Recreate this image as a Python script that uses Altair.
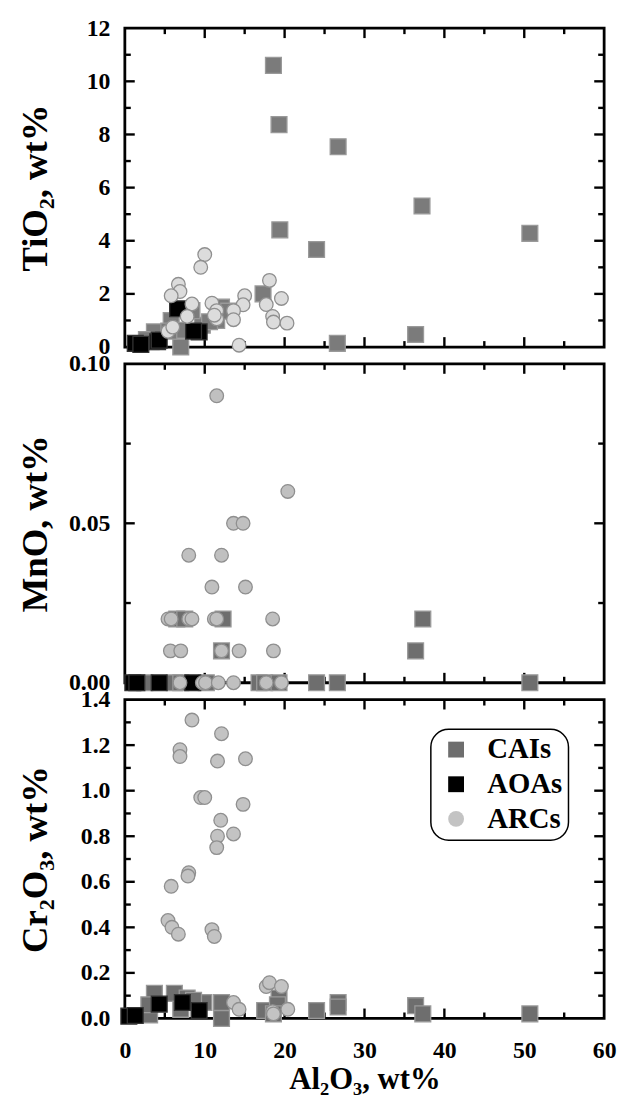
import altair as alt
import pandas as pd

GROUPS = ["CAIs", "AOAs", "ARCs"]
X_MAJOR = [10, 20, 30, 40, 50]
X_MINOR = [5, 15, 25, 35, 45, 55]
X_LABELS = [0, 10, 20, 30, 40, 50, 60]

# ---- TiO2 panel ----
TIO2_Y_LABELS = [0, 2, 4, 6, 8, 10, 12]
TIO2_Y_MAJOR = [2, 4, 6, 8, 10]
TIO2_Y_MINOR = [1, 3, 5, 7, 9, 11]
TIO2_CAI_X = [18.6, 19.3, 26.7, 19.4, 24.0, 17.3, 26.6, 7.0, 37.2, 50.7, 36.4, 5.8, 9.7, 12.1, 11.5,
              3.3, 3.7, 7.2, 8.4, 2.7, 5.5, 10.6, 13.0]
TIO2_CAI_Y = [10.6, 8.37, 7.54, 4.41, 3.67, 2.0, 0.14, 0.0, 5.31, 4.28, 0.47, 1.0, 0.82, 1.5, 1.0,
              0.2, 0.57, 0.63, 1.37, 0.28, 0.6, 0.95, 1.35]
TIO2_AOA_X = [1.3, 2.0, 4.1, 4.3, 9.3, 6.6, 8.6]
TIO2_AOA_Y = [0.14, 0.1, 0.2, 0.26, 0.57, 1.44, 0.6]
TIO2_ARC_X = [10.0, 9.5, 18.1, 6.7, 6.9, 5.8, 15.0, 19.6, 8.4, 10.9, 14.8, 17.7, 11.5, 13.6, 18.5,
              11.5, 13.6, 7.8, 18.6, 20.3, 5.4, 6.0, 14.3, 11.2]
TIO2_ARC_Y = [3.48, 3.0, 2.51, 2.36, 2.09, 1.93, 1.93, 1.83, 1.62, 1.65, 1.59, 1.6, 1.37, 1.37, 1.15,
              1.06, 1.03, 1.15, 0.94, 0.9, 0.59, 0.75, 0.07, 1.2]

# ---- MnO panel ----
MNO_Y_LABELS = [0, 0.05, 0.10]
MNO_Y_MAJOR = [0.05]
MNO_Y_MINOR = [0.025, 0.075]
MNO_CAI_X = [6.5, 7.5, 12.3, 37.3, 12.1, 36.4, 2.5, 6.2, 7.0, 10.2, 16.8, 17.5, 19.3, 24.0, 26.6, 50.7]
MNO_CAI_Y = [0.02, 0.02, 0.02, 0.02, 0.01, 0.01, 0.0, 0.0, 0.0, 0.0, 0.0, 0.0, 0.0, 0.0, 0.0, 0.0]
MNO_AOA_X = [1.0, 1.5, 4.3, 8.5]
MNO_AOA_Y = [0.0, 0.0, 0.0, 0.0]
MNO_ARC_X = [11.5, 20.4, 13.6, 14.8, 8.0, 12.1, 10.9, 15.1,
             5.4, 5.8, 8.0, 8.4, 11.2, 11.5, 18.5,
             5.7, 7.0, 12.1, 14.3, 18.6,
             6.9, 9.7, 10.1, 11.7, 13.6, 17.7, 19.6]
MNO_ARC_Y = [0.09, 0.06, 0.05, 0.05, 0.04, 0.04, 0.03, 0.03,
             0.02, 0.02, 0.02, 0.02, 0.02, 0.02, 0.02,
             0.01, 0.01, 0.01, 0.01, 0.01,
             0.0, 0.0, 0.0, 0.0, 0.0, 0.0, 0.0]

# ---- Cr2O3 panel ----
CR_Y_LABELS = [0.0, 0.2, 0.4, 0.6, 0.8, 1.0, 1.2, 1.4]
CR_Y_MAJOR = [0.2, 0.4, 0.6, 0.8, 1.0, 1.2]
CR_Y_MINOR = [0.1, 0.3, 0.5, 0.7, 0.9, 1.1, 1.3]
CR_CAI_X = [3.7, 6.2, 7.8, 9.9, 12.1, 12.1, 19.3, 17.5, 24.0, 26.7, 26.7, 3.1, 7.0, 36.4, 37.3, 50.7,
            3.0, 8.6, 19.1, 18.6]
CR_CAI_Y = [0.11, 0.11, 0.09, 0.07, 0.07, 0.0, 0.09, 0.035, 0.035, 0.07, 0.05, 0.015, 0.04, 0.056,
            0.02, 0.02, 0.06, 0.08, 0.06, 0.02]
CR_AOA_X = [0.5, 1.3, 4.3, 7.2, 9.3]
CR_AOA_Y = [0.01, 0.013, 0.063, 0.07, 0.035]
CR_ARC_X = [8.4, 12.1, 6.9, 6.9, 11.6, 15.1, 9.5, 10.0, 14.8, 12.0, 11.6, 13.6, 11.5, 8.0, 7.9,
            5.8, 5.4, 5.9, 6.7, 10.9, 11.2, 17.7, 18.1, 19.6, 13.6, 14.3, 18.5, 20.4, 18.6]
CR_ARC_Y = [1.31, 1.25, 1.18, 1.15, 1.13, 1.14, 0.97, 0.97, 0.94, 0.87, 0.80, 0.81, 0.75, 0.64, 0.625,
            0.58, 0.43, 0.40, 0.37, 0.39, 0.36, 0.14, 0.157, 0.14, 0.07, 0.04, 0.03, 0.04, 0.02]

FONT = "Liberation Serif"
W, H = 484, 322
MAJ, MIN = 10, 6
TICK_W = 2.4


def group_df(name, xs, ys):
    return pd.DataFrame({"al2o3": xs, "val": ys, "group": [name] * len(xs)})


def x_ticks(values, length, xs):
    d = alt.Chart(pd.DataFrame({"v": values}))
    m = d.mark_rule(color="black", strokeWidth=TICK_W)
    bottom = m.encode(x=alt.X("v:Q", scale=xs, axis=None), y=alt.value(H), y2=alt.value(H - length))
    top = m.encode(x=alt.X("v:Q", scale=xs, axis=None), y=alt.value(0), y2=alt.value(length))
    return [bottom, top]


def y_ticks(values, length, ys):
    d = alt.Chart(pd.DataFrame({"v": values}))
    m = d.mark_rule(color="black", strokeWidth=TICK_W)
    left = m.encode(y=alt.Y("v:Q", scale=ys, axis=None), x=alt.value(0), x2=alt.value(length))
    right = m.encode(y=alt.Y("v:Q", scale=ys, axis=None), x=alt.value(W), x2=alt.value(W - length))
    return [left, right]


def panel(groups, ydom, ylabels, ymaj, ymin, yfmt, ytitle, xlabels, arc_fill, cai_fill, legend):
    xs = alt.Scale(domain=[0, 60], nice=False, zero=False)
    ys = alt.Scale(domain=ydom, nice=False, zero=False)

    if xlabels:
        xaxis = alt.Axis(values=X_LABELS, ticks=False, domain=False, grid=False,
                         labelFont=FONT, labelFontSize=24, labelFontWeight="bold",
                         labelColor="black", labelPadding=20, labelFlush=False,
                         title="Al₂O₃, wt%", titleFont=FONT, titleFontSize=31,
                         titleFontWeight="bold", titleColor="black", titlePadding=3)
    else:
        xaxis = None
    yaxis = alt.Axis(values=ylabels, format=yfmt, ticks=False, domain=False, grid=False,
                     labelFont=FONT, labelFontSize=24, labelFontWeight="bold",
                     labelColor="black", labelPadding=15, labelFlush=False, labelOverlap=False,
                     title=ytitle, titleFont=FONT, titleFontSize=37, titleFontWeight="bold",
                     titleColor="black", titleX=-71)

    if legend:
        leg = alt.Legend(title=None, orient="none", legendX=309, legendY=30,
                         direction="vertical", strokeColor="black",
                         cornerRadius=18, padding=6, fillColor="white",
                         labelFont=FONT, labelFontSize=29, labelFontWeight="bold",
                         labelColor="black", symbolSize=256, symbolStrokeColor="#8a8a8a",
                         symbolStrokeWidth=1, rowPadding=5, labelOffset=17, symbolOffset=5)
    else:
        leg = None

    fill_scale = alt.Scale(domain=GROUPS, range=[cai_fill, "#000000", arc_fill])
    shape_scale = alt.Scale(domain=GROUPS, range=["square", "square", "circle"])
    strokes = {"CAIs": "#9a9a9a", "AOAs": "#333333", "ARCs": "#8f8f8f"}
    sizes = {"CAIs": 256, "AOAs": 256, "ARCs": 190}

    data_layers = []
    for i, (name, df) in enumerate(groups):
        first = i == 0
        lay = alt.Chart(df).mark_point(filled=True, opacity=1, strokeWidth=1.3,
                                       stroke=strokes[name], size=sizes[name]).encode(
            x=alt.X("al2o3:Q", scale=xs, axis=xaxis if first else None),
            y=alt.Y("val:Q", scale=ys, axis=yaxis if first else None),
            fill=alt.Fill("group:N", scale=fill_scale, legend=leg),
            shape=alt.Shape("group:N", scale=shape_scale, legend=leg),
        )
        data_layers.append(lay)

    layers = (x_ticks(X_MAJOR, MAJ, xs) + x_ticks(X_MINOR, MIN, xs)
              + y_ticks(ymaj, MAJ, ys) + y_ticks(ymin, MIN, ys) + data_layers)
    return alt.layer(*layers).resolve_axis(x="independent", y="independent").properties(
        width=W, height=H)


g1 = [("CAIs", group_df("CAIs", TIO2_CAI_X, TIO2_CAI_Y)),
      ("AOAs", group_df("AOAs", TIO2_AOA_X, TIO2_AOA_Y)),
      ("ARCs", group_df("ARCs", TIO2_ARC_X, TIO2_ARC_Y))]
g2 = [("CAIs", group_df("CAIs", MNO_CAI_X, MNO_CAI_Y)),
      ("AOAs", group_df("AOAs", MNO_AOA_X, MNO_AOA_Y)),
      ("ARCs", group_df("ARCs", MNO_ARC_X, MNO_ARC_Y))]
g3 = [("CAIs", group_df("CAIs", CR_CAI_X, CR_CAI_Y)),
      ("AOAs", group_df("AOAs", CR_AOA_X, CR_AOA_Y)),
      ("ARCs", group_df("ARCs", CR_ARC_X, CR_ARC_Y))]

p1 = panel(g1, [0, 12], TIO2_Y_LABELS, TIO2_Y_MAJOR, TIO2_Y_MINOR, "d", "TiO₂, wt%", False,
           "#dcdcdc", "#7b7b7b", False)
p2 = panel(g2, [0, 0.10], MNO_Y_LABELS, MNO_Y_MAJOR, MNO_Y_MINOR, ".2f", "MnO, wt%", False,
           "#c0c0c0", "#6e6e6e", False)
p3 = panel(g3, [0, 1.4], CR_Y_LABELS, CR_Y_MAJOR, CR_Y_MINOR, ".1f", "Cr₂O₃, wt%", True,
           "#c3c3c3", "#6e6e6e", True)

chart = alt.vconcat(p1, p2, p3, spacing=17, bounds="flush").resolve_scale(
    fill="independent", shape="independent"
).resolve_legend(fill="independent", shape="independent").properties(
    padding={"left": 7, "top": 1, "right": 0, "bottom": 0}
).configure_view(stroke="black", strokeWidth=2.8).configure_legend(strokeWidth=1.5)

chart.save("out.html", embed_options={"renderer": "svg", "actions": False})
